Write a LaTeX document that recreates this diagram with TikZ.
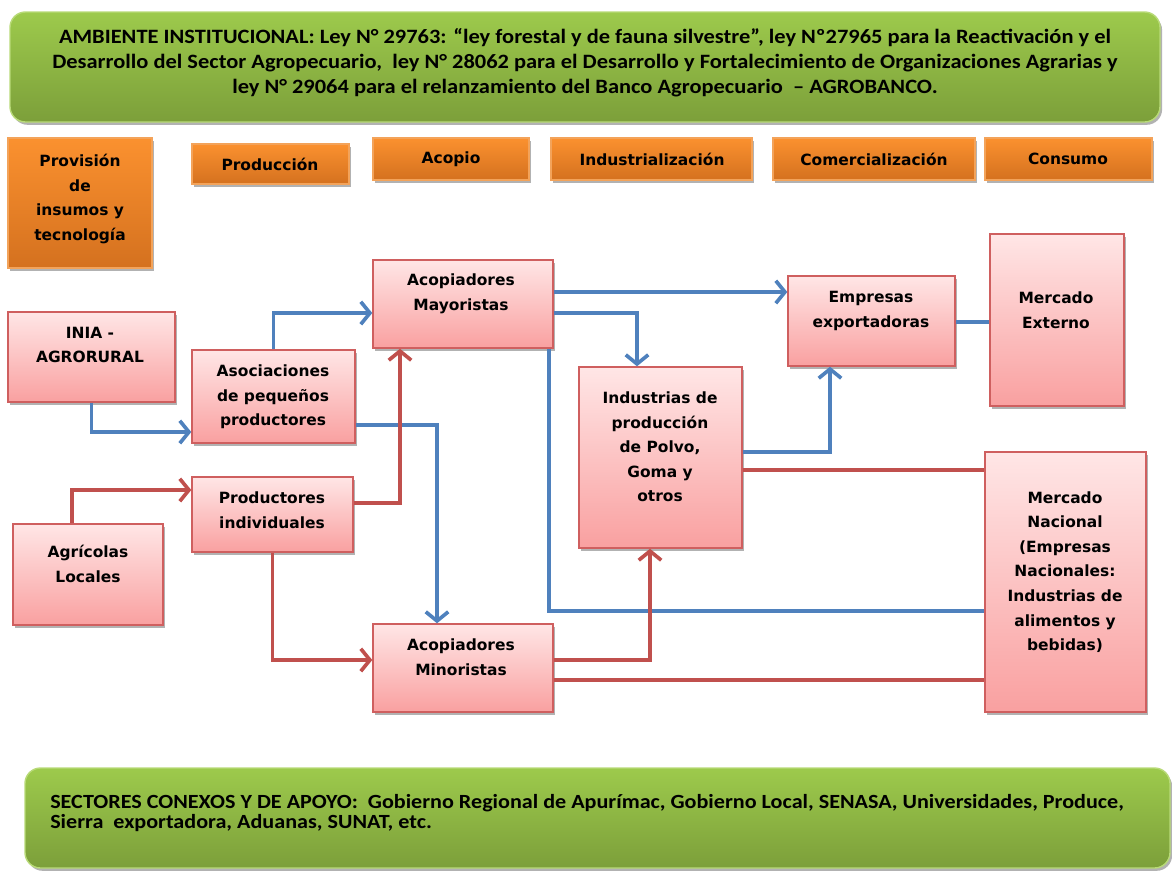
\documentclass[tikz,border=0pt]{standalone}
\usepackage{fontspec}
\setmainfont{DejaVu Sans}
\newfontfamily\banfont[FakeStretch=1.1]{Carlito}
\usetikzlibrary{arrows.meta,shadows,fit}
\definecolor{lblue}{HTML}{4F81BD}
\definecolor{lred}{HTML}{C0504D}
\definecolor{pinkT}{HTML}{FFE6E6}
\definecolor{pinkB}{HTML}{F9A0A0}
\definecolor{pinkD}{HTML}{CF5F5F}
\definecolor{oraT}{HTML}{FB912F}
\definecolor{oraB}{HTML}{D4711F}
\definecolor{oraD}{HTML}{F3A35A}
\definecolor{grnT}{HTML}{9DCA4C}
\definecolor{grnB}{HTML}{7C9F3A}
\definecolor{grnD}{HTML}{B8DA78}
\tikzset{
  shad/.style={drop shadow={shadow xshift=1.5pt,shadow yshift=-2pt,fill=black!55,opacity=.55}},
  pinkbox/.style={draw=pinkD,line width=1pt,top color=pinkT,bottom color=pinkB,shad,inner sep=0pt},
  orabox/.style={draw=oraD,line width=0.8pt,top color=oraT,bottom color=oraB,shad,inner sep=0pt},
  banner/.style={draw=grnD,line width=1pt,top color=grnT,bottom color=grnB,rounded corners=11pt,shad,inner sep=0pt},
  txt/.style={font=\bfseries\fontsize{11}{17.5}\selectfont,align=center,inner sep=0pt,text=black},
  bantxt/.style={font=\banfont\bfseries\fontsize{14.5}{17.8}\selectfont,inner sep=0pt,text=black},
  tip/.style={-{Straight Barb[length=6.5pt,width=16pt]}},
  bl/.style={draw=lblue,line width=2.6pt},
  rd/.style={draw=lred,line width=2.6pt},
}
\begin{document}
\begin{tikzpicture}[x=0.025cm,y=-0.025cm]
\useasboundingbox (0,0) rectangle (1172,870);
% banners
\node[banner,fit={(10,12) (1160,122)}] (amb) {};
\node[bantxt,align=center] (ambT) at (585,63) {AMBIENTE INSTITUCIONAL: Ley N° 29763: “ley forestal y de fauna silvestre”, ley Nº27965 para la Reactivación y el\\Desarrollo del Sector Agropecuario, \ ley N° 28062 para el Desarrollo y Fortalecimiento de Organizaciones Agrarias y\\ley N° 29064 para el relanzamiento del Banco Agropecuario \ – AGROBANCO.};
\node[banner,fit={(25,768) (1170,868)}] (sec) {};
\node[bantxt,align=left,anchor=west,font=\banfont\bfseries\fontsize{14.3}{14}\selectfont] (secT) at (50,813) {SECTORES CONEXOS Y DE APOYO: \ Gobierno Regional de Apurímac, Gobierno Local, SENASA, Universidades, Produce,\\Sierra \ exportadora, Aduanas, SUNAT, etc.};
% header boxes
\node[orabox,fit={(8,138) (152,268)}] (prov) {};
\node[txt] (provT) at (80,199) {Provisión\\de\\insumos y\\tecnología};
\node[orabox,fit={(192,144) (349,184)}] (prodh) {};
\node[txt] (prodhT) at (270,164) {Producción};
\node[orabox,fit={(373,138) (529,180)}] (acoh) {};
\node[txt] (acohT) at (451,159) {Acopio};
\node[orabox,fit={(551,138) (752,180)}] (indh) {};
\node[txt] (indhT) at (652,159) {Industrialización};
\node[orabox,fit={(773,138) (975,180)}] (comh) {};
\node[txt] (comhT) at (874,159) {Comercialización};
\node[orabox,fit={(985,138) (1152,180)}] (conh) {};
\node[txt] (conhT) at (1068,159) {Consumo};
% pink boxes
\node[pinkbox,fit={(8,312) (175,402)}] (inia) {};
\node[txt] (iniaT) at (90,345) {INIA -\\AGRORURAL};
\node[pinkbox,fit={(192,350) (355,443)}] (asoc) {};
\node[txt] (asocT) at (273,397) {Asociaciones\\de pequeños\\productores};
\node[pinkbox,fit={(192,477) (353,552)}] (prod) {};
\node[txt] (prodT) at (272,510) {Productores\\individuales};
\node[pinkbox,fit={(13,524) (163,625)}] (agr) {};
\node[txt] (agrT) at (88,564) {Agrícolas\\Locales};
\node[pinkbox,fit={(373,260) (553,348)}] (may) {};
\node[txt] (mayT) at (461,294) {Acopiadores\\Mayoristas};
\node[pinkbox,fit={(373,624) (553,712)}] (minor) {};
\node[txt] (minorT) at (461,657) {Acopiadores\\Minoristas};
\node[pinkbox,fit={(579,367) (742,548)}] (ind) {};
\node[txt] (indT) at (660,447) {Industrias de\\producción\\de Polvo,\\Goma y\\otros};
\node[pinkbox,fit={(788,276) (955,366)}] (emp) {};
\node[txt] (empT) at (871,311) {Empresas\\exportadoras};
\node[pinkbox,fit={(990,234) (1124,406)}] (ext) {};
\node[txt] (extT) at (1056,310) {Mercado\\Externo};
\node[pinkbox,fit={(985,452) (1146,712)}] (nac) {};
\node[txt] (nacT) at (1065,572) {Mercado\\Nacional\\(Empresas\\Nacionales:\\Industrias de\\alimentos y\\bebidas)};
% blue connectors
\draw[bl,tip] (inia.south) |- (asoc.west |- 0,432);
\draw[bl,tip] (asoc.north) |- (may.west |- 0,313);
\draw[bl,tip] (asoc.east |- 0,425) -| (minor.north -| 437,0);
\draw[bl,tip] (may.east |- 0,292) -- (emp.west |- 0,292);
\draw[bl,tip] (may.east |- 0,313) -| (ind.north -| 637,0);
\draw[bl] (may.south -| 549,0) |- (nac.west |- 0,611);
\draw[bl,tip] (ind.east |- 0,452) -| (emp.south -| 830,0);
\draw[bl] (emp.east |- 0,322) -- (ext.west |- 0,322);
% red connectors
\draw[rd,tip] (agr.north -| 72,0) |- (prod.west |- 0,490);
\draw[rd,tip] (prod.east |- 0,503) -| (may.south -| 400,0);
\draw[rd,tip] (prod.south) |- (minor.west |- 0,660);
\draw[rd,tip] (minor.east |- 0,660) -| (ind.south -| 650,0);
\draw[rd] (minor.east |- 0,680) -- (nac.west |- 0,680);
\draw[rd] (ind.east |- 0,470) -- (nac.west |- 0,470);
\end{tikzpicture}
\end{document}
